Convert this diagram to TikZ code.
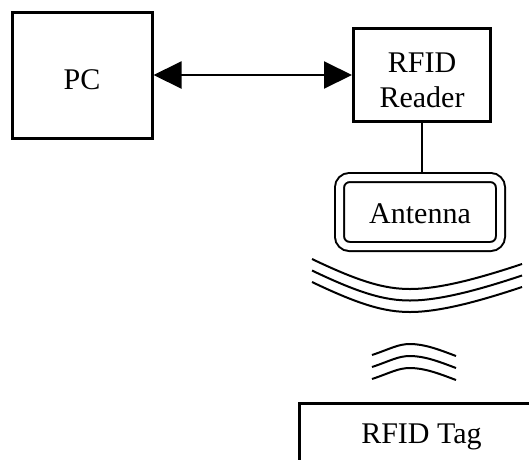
\documentclass[tikz,border=0pt]{standalone}
\usepackage{fontspec}
\setmainfont{Liberation Serif}
\usetikzlibrary{arrows.meta}
\begin{document}
\begin{tikzpicture}[x=1pt,y=-1pt]

    \tikzset{
      block/.style={
        draw,
        line width=3pt,
        inner sep=0pt,
        font=\fontsize{30}{35}\selectfont,
      },
      antennabox/.style={
        draw,
        double,
        line width=2pt,
        double distance=7pt,
        rounded corners=10pt,
        inner sep=0pt,
        outer sep=5.5pt,
        minimum width=161pt,
        minimum height=69pt,
        font=\fontsize{30}{35}\selectfont,
      },
      wave/.style={
        line width=2pt,
      },
      link/.style={
        line width=2pt,
        {Triangle[length=28pt,width=27pt]}-{Triangle[length=28pt,width=27pt]},
      },
    }
    \useasboundingbox (0,0) rectangle (529,459);

    \node[block, minimum width=140pt, minimum height=126pt, text height=28pt, text depth=0pt] (pc) at (82,75) {PC};
    \node[block, minimum width=137pt, minimum height=93pt, align=center] (reader) at (422,75)
      {\rule{0pt}{30pt}RFID\\Reader};
    \node[antennabox, text height=22pt, text depth=0pt] (antenna) at (420,212) {Antenna};
    \node[block, minimum width=270pt, minimum height=60pt, text height=20pt, text depth=0pt, anchor=north west] (tag) at (298,402) {\hspace*{-26pt}RFID Tag};

    \draw[link] (pc) -- (reader);
    \draw[line width=1.5pt] (reader.south) -- (reader.south |- antenna.north);

    % field from the antenna
    \draw[wave] (312,259) .. controls (360,282) and (385,289) .. (410,289) .. controls (440,289) and (480,278) .. (522,264);
    \draw[wave] (312,270.5) .. controls (360,293.5) and (385,300.5) .. (410,300.5) .. controls (440,300.5) and (480,289.5) .. (522,275.5);
    \draw[wave] (312,282) .. controls (360,305) and (385,312) .. (410,312) .. controls (440,312) and (480,301) .. (522,287);

    % answer of the tag
    \draw[wave] (372,355) .. controls (390,349) and (398,344) .. (410,344) .. controls (425,344) and (440,350) .. (456,356);
    \draw[wave] (372,367) .. controls (390,361) and (398,356) .. (410,356) .. controls (425,356) and (440,362) .. (456,368);
    \draw[wave] (372,379) .. controls (390,373) and (398,368) .. (410,368) .. controls (425,368) and (440,374) .. (456,380);

\end{tikzpicture}
\end{document}
